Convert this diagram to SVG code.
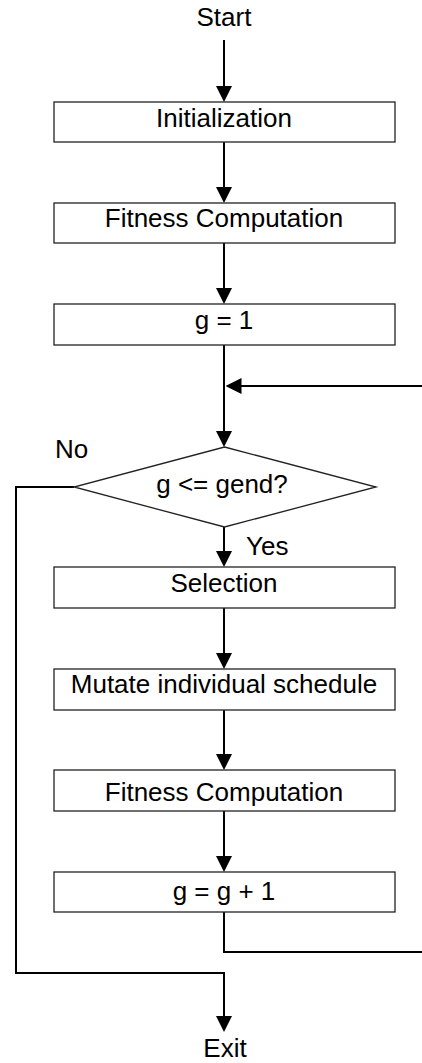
<svg xmlns="http://www.w3.org/2000/svg" width="422" height="1063" viewBox="0 0 422 1063">
<style>
.box{fill:#fff;stroke:#222;stroke-width:1.3}
.lbl{font-family:"Liberation Sans",Arial,sans-serif;font-size:26px;fill:#000}
.mid{text-anchor:middle}
.con{fill:none;stroke:#000;stroke-width:2}
</style>
<defs>
<marker id="ah" markerUnits="userSpaceOnUse" markerWidth="16" markerHeight="16" viewBox="0 0 16 16" refX="10" refY="8" orient="auto">
<path d="M0,0 L16,8 L0,16 Z" fill="#000"/>
</marker>
</defs>
<g id="connectors">
<path class="con" d="M224,40 V96" marker-end="url(#ah)"/>
<path class="con" d="M224,142 V197" marker-end="url(#ah)"/>
<path class="con" d="M224,243 V298" marker-end="url(#ah)"/>
<path class="con" d="M224,345 V441" marker-end="url(#ah)"/>
<path class="con" d="M422,386 H231.5" marker-end="url(#ah)"/>
<path class="con" d="M224,527 V561" marker-end="url(#ah)"/>
<path class="con" d="M224,608 V663" marker-end="url(#ah)"/>
<path class="con" d="M224,710 V764" marker-end="url(#ah)"/>
<path class="con" d="M224,811 V866" marker-end="url(#ah)"/>
<path class="con" d="M224,912 V952 H422"/>
<path class="con" d="M74,487 H16 V973 H224 V1026" marker-end="url(#ah)"/>
</g>
<g id="start"><text class="lbl mid" x="224" y="26">Start</text></g>
<g id="init"><rect class="box" x="54" y="102" width="341" height="40"/><text class="lbl mid" x="224" y="127">Initialization</text></g>
<g id="fitness1"><rect class="box" x="54" y="203" width="341" height="40"/><text class="lbl mid" x="224" y="227">Fitness Computation</text></g>
<g id="g1"><rect class="box" x="54" y="304" width="341" height="41"/><text class="lbl mid" x="224" y="329">g = 1</text></g>
<g id="decision"><polygon class="box" points="224.5,447 376,487 224.5,527 74,487"/><text class="lbl mid" x="222" y="493">g &lt;= gend?</text></g>
<g id="no-label"><text class="lbl" x="55" y="458">No</text></g>
<g id="yes-label"><text class="lbl" x="246" y="555">Yes</text></g>
<g id="selection"><rect class="box" x="54" y="567" width="341" height="41"/><text class="lbl mid" x="224" y="592">Selection</text></g>
<g id="mutate"><rect class="box" x="54" y="669" width="341" height="41"/><text class="lbl mid" x="224" y="693">Mutate individual schedule</text></g>
<g id="fitness2"><rect class="box" x="54" y="770" width="341" height="41"/><text class="lbl mid" x="224" y="801">Fitness Computation</text></g>
<g id="ginc"><rect class="box" x="54" y="872" width="341" height="40"/><text class="lbl mid" x="224" y="900">g = g + 1</text></g>
<g id="exit"><text class="lbl mid" x="225" y="1057">Exit</text></g>
</svg>
